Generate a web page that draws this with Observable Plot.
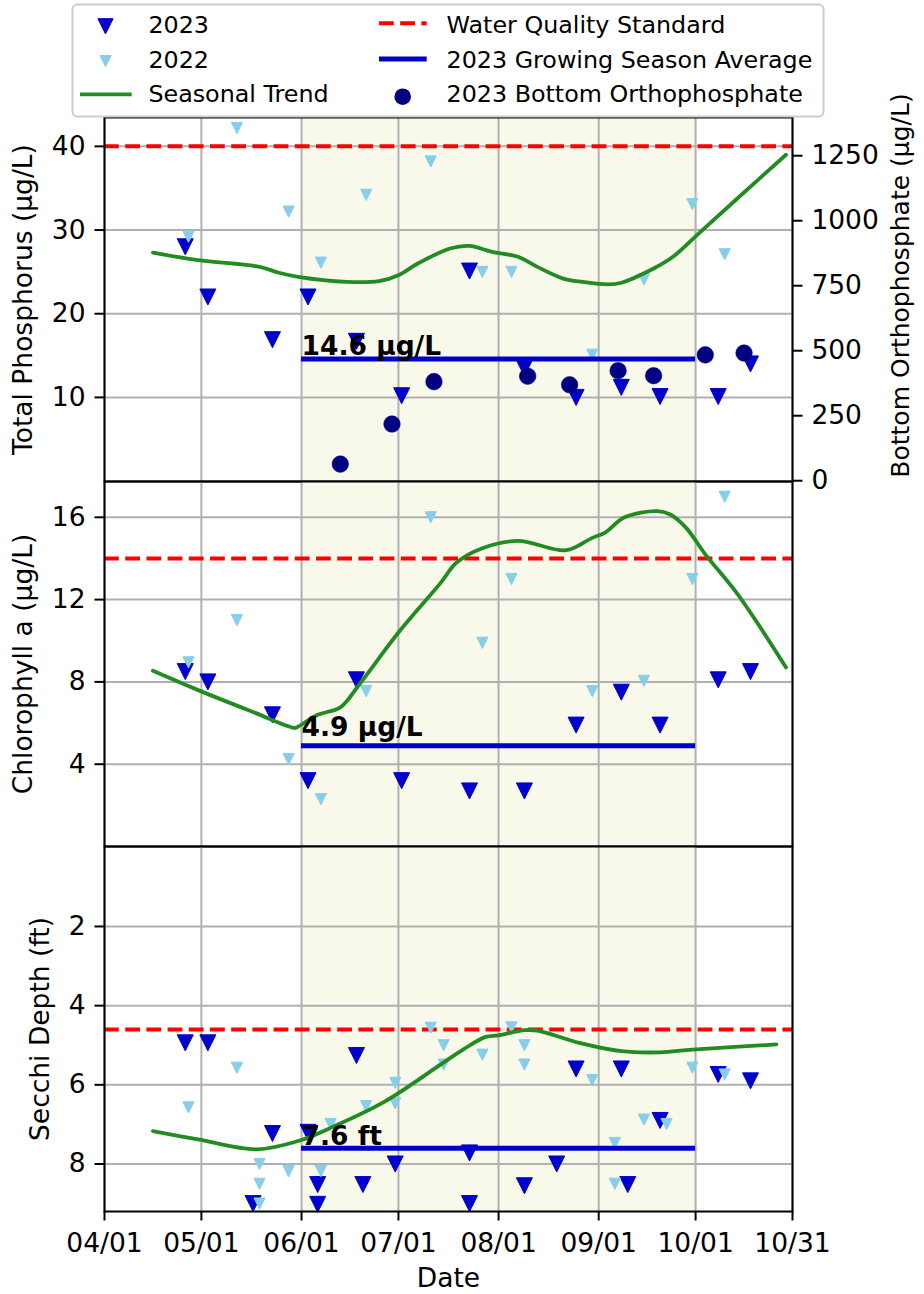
<!DOCTYPE html>
<html>
<head>
<meta charset="utf-8">
<script src="https://cdn.jsdelivr.net/npm/d3@7"></script>
<script src="https://cdn.jsdelivr.net/npm/@observablehq/plot@0.6"></script>
<style>
  html, body { margin: 0; padding: 0; background: #ffffff; }
  #wrap { position: relative; width: 924px; height: 1294px; overflow: hidden; background: #ffffff; font-family: "DejaVu Sans", sans-serif; color: #000; }
  #legend { position: absolute; left: 0; top: 0; }
</style>
</head>
<body>
<div id="wrap"></div>
<script>
// ---------------- data ----------------
const X_TICKS = ["04-01","05-01","06-01","07-01","08-01","09-01","10-01","10-31"];
const SEASON = ["06-01","10-01"];

const dates2023 = ["04-26","05-03","05-23","06-03","06-18","07-02","07-23","08-09","08-25","09-08","09-20","10-08","10-18"];
const dates2022 = ["04-27","05-12","05-28","06-07","06-21","07-11","07-27","08-05","08-30","09-15","09-30","10-10"];

const tp2023  = [28.0, 22.0, 16.9, 22.0, 16.7, 10.2, 25.1, 13.5, 10.0, 11.2, 10.1, 10.1, 14.0];
const tp2022  = [29.2, 42.2, 32.2, 26.1, 34.2, 38.2, 25.0, 25.0, 15.1, 24.1, 33.1, 27.1];
const chl2023 = [8.5, 8.0, 6.4, 3.2, 8.1, 3.2, 2.7, 2.7, 5.9, 7.5, 5.9, 8.1, 8.5];
const chl2022 = [8.95, 11.0, 4.25, 2.3, 7.55, 16.0, 9.9, 13.0, 7.55, 8.05, 13.0, 17.0];

const secchiDates2023 = ["04-26","05-03","05-17","05-23","06-03","06-06","06-06","06-18","06-20","06-30","07-23","07-23","08-09","08-19","08-25","09-08","09-10","09-20","10-08","10-18"];
const secchi2023      = [4.94, 4.94, 9.0, 7.23, 7.2, 8.52, 9.02, 5.26, 8.52, 8.0, 7.72, 9.0, 8.55, 8.0, 5.6, 5.6, 8.52, 6.9, 5.74, 5.9];
const secchiDates2022 = ["04-27","05-12","05-19","05-19","05-19","05-28","06-07","06-10","06-21","06-30","06-30","07-11","07-15","07-15","07-27","08-05","08-09","08-09","08-30","09-06","09-06","09-15","09-22","09-30","10-10"];
const secchi2022      = [6.57, 5.57, 8.0, 8.5, 9.0, 8.18, 8.18, 6.99, 6.54, 5.95, 6.47, 4.56, 5.0, 5.49, 5.24, 4.55, 5.0, 5.49, 5.88, 7.47, 8.5, 6.88, 6.99, 5.57, 5.74];

const orthoDates = ["06-13","06-29","07-12","08-10","08-23","09-07","09-18","10-04","10-16"];
const ortho2023  = [64, 218, 381, 402, 369, 423, 404, 484, 491];

const tpTrendDates = ["04-16","04-30","05-19","05-25","05-31","06-15","06-25","07-01","07-07","07-17","07-23","07-30","08-07","08-13","08-21","08-27","09-04","09-08","09-18","09-24","10-02","10-14","10-29"];
const tpTrend      = [27.3, 26.4, 25.6, 24.9, 24.4, 23.8, 23.9, 24.6, 26.0, 27.8, 28.1, 27.4, 26.8, 25.6, 24.2, 23.8, 23.5, 23.7, 25.4, 26.8, 29.6, 33.8, 39.0];

const chlTrendDates = ["04-16","04-30","05-16","05-30","05-31","06-06","06-13","06-19","07-01","07-14","07-19","07-27","08-07","08-22","08-30","09-03","09-09","09-19","09-23","09-28","10-04","10-14","10-29"];
const chlTrend      = [8.54, 7.6, 6.6, 5.76, 5.83, 6.4, 6.76, 7.9, 10.4, 12.8, 13.8, 14.5, 14.85, 14.4, 15.0, 15.26, 16.0, 16.3, 16.15, 15.5, 14.2, 12.27, 8.7];

const secchiTrendDates = ["04-16","04-30","05-18","05-31","06-11","06-27","07-14","07-21","07-28","08-01","08-09","08-13","08-26","09-08","09-20","09-30","10-26"];
const secchiTrend      = [7.17, 7.38, 7.63, 7.42, 7.05, 6.41, 5.49, 5.11, 4.79, 4.75, 4.62, 4.63, 4.94, 5.15, 5.18, 5.11, 4.98];

const tpStandard = 40, chlStandard = 14, secchiStandard = 4.6;
const tpAverage = 14.6, chlAverage = 4.9, secchiAverage = 7.6;

const tpTicks = [10, 20, 30, 40];
const chlTicks = [4, 8, 12, 16];
const secchiTicks = [2, 4, 6, 8];
const orthoTicks = [0, 250, 500, 750, 1000, 1250];

const legendLabels = ["2023", "2022", "Seasonal Trend", "Water Quality Standard", "2023 Growing Season Average", "2023 Bottom Orthophosphate"];

// ---------------- helpers ----------------
const D = s => new Date(`2023-${s}T00:00:00Z`);
const zip = (dates, vals) => dates.map((d, i) => ({date: D(d), value: vals[i]}));

const SHADE = "#f8f8eb", GRID = "#b0b0b0", C23 = "#0000cd", C22 = "#87ceeb", NAVY = "#000080", GREEN = "#228b22", RED = "#ff0000";
const FONT = "DejaVu Sans";
const FS = 26.5;
const xDomain = [D(X_TICKS[0]), D(X_TICKS[X_TICKS.length - 1])];
const xTickDates = X_TICKS.map(D);

// downward triangle, centred on its bounding box (like matplotlib "v")
const triDown = {
  draw(ctx, size) {
    const r = Math.sqrt(size / Math.PI);
    ctx.moveTo(0, r);
    ctx.lineTo(-r, -r);
    ctx.lineTo(r, -r);
    ctx.closePath();
  }
};

const wrap = document.getElementById("wrap");

function svgStyle(top) {
  return {position: "absolute", left: "0px", top: `${top}px`, overflow: "visible", background: "transparent", fontFamily: FONT, maxWidth: "none"};
}

function panel(o) {
  const marks = [
    Plot.rect([SEASON], {x1: d => D(d[0]), x2: d => D(d[1]), fill: SHADE}),
    Plot.gridX(xTickDates, {stroke: GRID, strokeOpacity: 1, strokeWidth: 2}),
    Plot.gridY(o.yTicks, {stroke: GRID, strokeOpacity: 1, strokeWidth: 2}),
    Plot.ruleY([o.std], {stroke: RED, strokeWidth: 4, strokeDasharray: "14.8,6.4"}),
    Plot.dot(o.obs23, {x: "date", y: "value", symbol: triDown, r: 8, fill: C23, stroke: C23, strokeWidth: 1}),
    Plot.dot(o.obs22, {x: "date", y: "value", symbol: triDown, r: 5.6, fill: C22, stroke: C22, strokeWidth: 1}),
    Plot.line(o.trend, {x: "date", y: "value", stroke: GREEN, strokeWidth: 3.8, curve: "catmull-rom"}),
    Plot.ruleY([o.avg], {x1: () => D(SEASON[0]), x2: () => D(SEASON[1]), stroke: C23, strokeWidth: 5}),
    Plot.text([o.avgLabel], {x: () => D(SEASON[0]), y: () => o.avg, text: d => d, textAnchor: "start", lineAnchor: "middle", dy: o.avgDy, fontSize: FS, fontWeight: "bold", fill: "#000"}),
    Plot.frame({stroke: "#000", strokeWidth: 2}),
    Plot.axisY(o.yTicks, {tickSize: 9.5, tickPadding: 9.4, fontSize: FS, strokeWidth: 2, label: null}),
    Plot.text([o.yLabel], {frameAnchor: "left", dx: o.yLabelDx, rotate: -90, text: d => d, textAnchor: "middle", lineAnchor: "middle", fontSize: FS, fill: "#000"})
  ];
  if (o.showX) {
    marks.push(
      Plot.axisX(xTickDates, {tickFormat: d3.utcFormat("%m/%d"), tickSize: 9.5, tickPadding: 12, fontSize: FS, strokeWidth: 2, label: null}),
      Plot.text(["Date"], {frameAnchor: "bottom", dy: 67.5, text: d => d, textAnchor: "middle", lineAnchor: "middle", fontSize: FS, fill: "#000"})
    );
  }
  const svg = Plot.plot({
    width: 924,
    height: o.height,
    marginLeft: 104,
    marginRight: 132,
    marginTop: 0,
    marginBottom: o.marginBottom || 0,
    style: svgStyle(o.top),
    x: o.showX ? {type: "utc", domain: xDomain} : {type: "utc", domain: xDomain, axis: null},
    y: {domain: o.yDomain, reverse: !!o.reverse},
    marks
  });
  wrap.appendChild(svg);
}

// Top: total phosphorus
panel({
  top: 117, height: 364, yDomain: [-0.05, 43.45], yTicks: tpTicks, std: tpStandard,
  avg: tpAverage, avgLabel: `${tpAverage} µg/L`, avgDy: -12,
  obs23: zip(dates2023, tp2023), obs22: zip(dates2022, tp2022), trend: zip(tpTrendDates, tpTrend),
  yLabel: "Total Phosphorus (µg/L)", yLabelDx: -80.5
});

// Middle: chlorophyll a
panel({
  top: 481, height: 365, yDomain: [0, 17.74], yTicks: chlTicks, std: chlStandard,
  avg: chlAverage, avgLabel: `${chlAverage} µg/L`, avgDy: -18,
  obs23: zip(dates2023, chl2023), obs22: zip(dates2022, chl2022), trend: zip(chlTrendDates, chlTrend),
  yLabel: "Chlorophyll a (µg/L)", yLabelDx: -80.5
});

// Bottom: Secchi depth (reversed)
panel({
  top: 846, height: 448, marginBottom: 83, yDomain: [-0.02, 9.2], reverse: true, yTicks: secchiTicks, std: secchiStandard,
  avg: secchiAverage, avgLabel: `${secchiAverage} ft`, avgDy: -11.5,
  obs23: zip(secchiDates2023, secchi2023), obs22: zip(secchiDates2022, secchi2022), trend: zip(secchiTrendDates, secchiTrend),
  yLabel: "Secchi Depth (ft)", yLabelDx: -64, showX: true
});

// Twin axis on top panel: bottom orthophosphate
wrap.appendChild(Plot.plot({
  width: 924, height: 364, marginLeft: 104, marginRight: 132, marginTop: 0, marginBottom: 0,
  style: svgStyle(117),
  x: {type: "utc", domain: xDomain, axis: null},
  y: {domain: [-3, 1397]},
  marks: [
    Plot.dot(zip(orthoDates, ortho2023), {x: "date", y: "value", r: 8.3, fill: NAVY, stroke: NAVY, strokeWidth: 0.5}),
    Plot.axisY(orthoTicks, {anchor: "right", tickFormat: d => String(d), tickSize: 9.5, tickPadding: 9.4, fontSize: FS, strokeWidth: 2, label: null}),
    Plot.text(["Bottom Orthophosphate (µg/L)"], {frameAnchor: "right", dx: 108, dy: -14, rotate: -90, text: d => d, textAnchor: "middle", lineAnchor: "middle", fontSize: 25, fill: "#000"})
  ]
}));

// Legend (drawn on top, semi-transparent like matplotlib)
const LFS = 23.8;
const tri = (cx, cy, r, c) => `<path d="M${cx},${cy + r}L${cx - r},${cy - r}L${cx + r},${cy - r}Z" fill="${c}" stroke="${c}" stroke-width="1"/>`;
const legendSvg = `
<svg id="legend" width="924" height="130" xmlns="http://www.w3.org/2000/svg" style="font-family:'DejaVu Sans'">
  <rect x="72.5" y="4.5" width="751" height="112" rx="5" ry="5" fill="#ffffff" fill-opacity="0.8" stroke="#cccccc" stroke-width="2"/>
  ${tri(105.5, 26.3, 7.6, C23)}
  ${tri(105.5, 61, 5.6, C22)}
  <line x1="80" x2="131.7" y1="94.3" y2="94.3" stroke="${GREEN}" stroke-width="3.8"/>
  <line x1="379" x2="426.7" y1="23.3" y2="23.3" stroke="${RED}" stroke-width="4" stroke-dasharray="14.8,6.4"/>
  <line x1="379" x2="426.7" y1="59" y2="59" stroke="${C23}" stroke-width="5"/>
  <circle cx="402.7" cy="96.7" r="8.3" fill="${NAVY}"/>
  <g font-size="${LFS}" fill="#000">
    <text x="148.4" y="33.1">${legendLabels[0]}</text>
    <text x="148.4" y="68">${legendLabels[1]}</text>
    <text x="148.4" y="101.9">${legendLabels[2]}</text>
    <text x="446.5" y="33.1">${legendLabels[3]}</text>
    <text x="446.5" y="68">${legendLabels[4]}</text>
    <text x="446.5" y="101.9">${legendLabels[5]}</text>
  </g>
</svg>`;
wrap.insertAdjacentHTML("beforeend", legendSvg);
</script>
</body>
</html>
